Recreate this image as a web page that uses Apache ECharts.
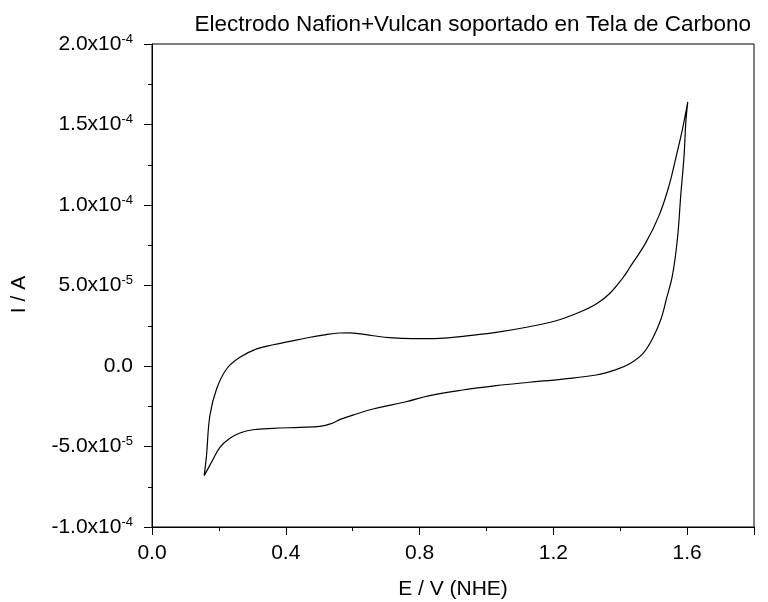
<!DOCTYPE html>
<html>
<head>
<meta charset="utf-8">
<script src="https://cdn.jsdelivr.net/npm/echarts@6/dist/echarts.min.js"></script>
<style>html,body{margin:0;padding:0;background:#fff}#c{width:768px;height:602px}</style>
</head>
<body>
<div id="c"></div>
<script>
var titleText = "Electrodo Nafion+Vulcan soportado en Tela de Carbono";
var xName = "E / V (NHE)";
var yName = "I / A";

// Forward (anodic) scan, E in V
var forwardE = [0.156,0.163,0.173,0.193,0.223,0.263,0.313,0.362,0.412,0.462,0.511,0.561,0.591,0.661,0.710,0.780,0.860,0.929,1.029,1.128,1.208,1.278,1.328,1.367,1.407,1.428,1.477,1.516,1.546,1.566,1.586,1.602];
var forwardI = [-6.81e-5,-5.55e-5,-3.09e-5,-1.43e-5,-1.86e-6,5.4e-6,1.06e-5,1.32e-5,1.53e-5,1.74e-5,1.92e-5,2.05e-5,2.06e-5,1.88e-5,1.76e-5,1.70e-5,1.72e-5,1.84e-5,2.09e-5,2.44e-5,2.81e-5,3.34e-5,3.85e-5,4.47e-5,5.45e-5,6.1e-5,7.68e-5,9.34e-5,1.12e-4,1.29e-4,1.47e-4,1.64e-4];
// Reverse (cathodic) scan
var reverseE = [1.602,1.596,1.591,1.581,1.571,1.556,1.538,1.522,1.496,1.467,1.427,1.387,1.328,1.228,1.128,1.029,0.929,0.830,0.760,0.661,0.611,0.561,0.541,0.502,0.442,0.362,0.302,0.263,0.233,0.203,0.178,0.156];
var reverseI = [1.64e-4,1.51e-4,1.31e-4,1.06e-4,7.89e-5,5.61e-5,4.16e-5,2.92e-5,1.68e-5,7.5e-6,1.2e-6,-2.3e-6,-5.6e-6,-8.1e-6,-1.01e-5,-1.22e-5,-1.49e-5,-1.84e-5,-2.22e-5,-2.67e-5,-2.98e-5,-3.33e-5,-3.54e-5,-3.75e-5,-3.81e-5,-3.87e-5,-3.96e-5,-4.16e-5,-4.49e-5,-5.05e-5,-5.98e-5,-6.81e-5];

var xMin = 0, xMax = 1.8, xStep = 0.4;
var yMin = -1e-4, yMax = 2e-4, yStep = 5e-5;

var data = [];
for (var i = 0; i < forwardE.length; i++) data.push([forwardE[i], forwardI[i]]);
for (var j = 1; j < reverseE.length; j++) data.push([reverseE[j], reverseI[j]]);

function yFmt(v) {
  if (Math.abs(v) < 1e-12) return '0.0';
  var e = Math.floor(Math.log10(Math.abs(v)) + 1e-9);
  var m = v / Math.pow(10, e);
  return m.toFixed(1) + 'x10{sup|' + e + '}';
}

var font = 'Liberation Sans, Arial, sans-serif';
var chart = echarts.init(document.getElementById('c'), null, {renderer: 'canvas'});
chart.setOption({
  animation: false,
  backgroundColor: '#fff',
  title: {
    text: titleText, right: 12, top: 8,
    textStyle: {fontFamily: font, fontSize: 22.5, fontWeight: 'normal', color: '#000'}
  },
  grid: {left: 152, right: 14, top: 44, bottom: 75, outerBoundsMode: 'none', containLabel: false,
    show: true, borderColor: '#000', borderWidth: 1, backgroundColor: 'transparent'},
  xAxis: {
    type: 'value', min: xMin, max: xMax, interval: xStep,
    name: xName, nameLocation: 'middle', nameGap: 52,
    nameTextStyle: {fontFamily: font, fontSize: 21, color: '#000'},
    axisLine: {show: true, onZero: false, lineStyle: {color: '#000', width: 1}},
    axisTick: {show: true, length: 8, lineStyle: {color: '#000'}},
    minorTick: {show: true, splitNumber: 2, length: 4, lineStyle: {color: '#000'}},
    splitLine: {show: false},
    axisLabel: {fontFamily: font, fontSize: 21, color: '#000', margin: 16,
      formatter: function (v) { return v >= xMax - 1e-9 ? '' : v.toFixed(1); }}
  },
  yAxis: {
    type: 'value', min: yMin, max: yMax, interval: yStep,
    name: yName, nameLocation: 'middle', nameGap: 122, nameRotate: 90,
    nameTextStyle: {fontFamily: font, fontSize: 21, color: '#000', padding: [0, 18, 0, 0]},
    axisLine: {show: true, onZero: false, lineStyle: {color: '#000', width: 1}},
    axisTick: {show: true, length: 8, lineStyle: {color: '#000'}},
    minorTick: {show: true, splitNumber: 2, length: 4, lineStyle: {color: '#000'}},
    splitLine: {show: false},
    axisLabel: {fontFamily: font, fontSize: 21, color: '#000', margin: 19,
      formatter: yFmt,
      rich: {sup: {fontFamily: font, fontSize: 13, color: '#000', verticalAlign: 'top', padding: [0, 0, 10, 0]}}}
  },
  series: [{
    type: 'line', data: data, showSymbol: false, smooth: 0.4,
    lineStyle: {color: '#000', width: 1.2}
  }]
});
</script>
</body>
</html>
